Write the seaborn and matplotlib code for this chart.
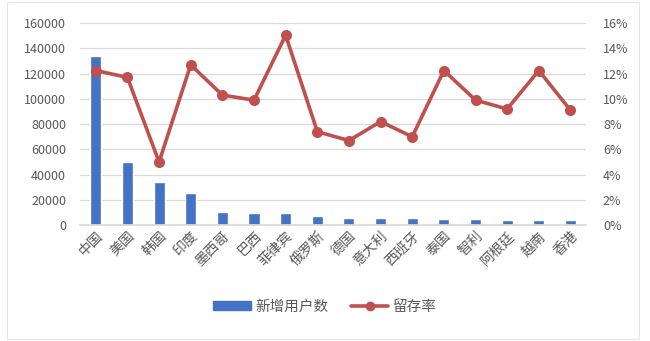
import matplotlib
matplotlib.use("Agg")
import matplotlib.pyplot as plt
import matplotlib.patches as mpatches
from matplotlib.lines import Line2D
from matplotlib.ticker import FuncFormatter, MultipleLocator
import seaborn as sns
import pandas as pd

categories = ["中国", "美国", "韩国", "印度", "墨西哥", "巴西", "菲律宾", "俄罗斯",
              "德国", "意大利", "西班牙", "泰国", "智利", "阿根廷", "越南", "香港"]
new_users = [134000, 50000, 34000, 25500, 10000, 9800, 9800, 6800,
             5500, 5500, 5400, 4500, 4500, 3800, 3800, 3800]
retention = [12.25, 11.7, 5.0, 12.7, 10.3, 9.9, 15.05, 7.4,
             6.7, 8.2, 7.0, 12.25, 9.9, 9.2, 12.25, 9.1]

bar_label = "新增用户数"
line_label = "留存率"

sns.set_theme(style="white")
plt.rcParams["font.family"] = ["Noto Sans CJK SC", "DejaVu Sans"]

df = pd.DataFrame({"cat": categories, "users": new_users, "rate": retention})

BLUE = "#4472C4"
RED = "#C0504D"
GRID = "#D9D9D9"
TXT = "#595959"

fig = plt.figure(figsize=(6.5, 3.41), dpi=100)
ax = fig.add_axes([0.123, 0.34, 0.779, 0.592])

sns.barplot(data=df, x="cat", y="users", color=BLUE, width=0.35, saturation=1,
            ax=ax, zorder=2)
ax.set_ylim(0, 160000)
ax.yaxis.set_major_locator(MultipleLocator(20000))
ax.set_xlim(-0.5, len(categories) - 0.5)
ax.grid(axis="y", color=GRID, linewidth=0.9, zorder=0)
ax.set_axisbelow(True)
ax.set_xlabel("")
ax.set_ylabel("")
for s in ax.spines.values():
    s.set_visible(False)
ax.spines["bottom"].set_visible(True)
ax.spines["bottom"].set_color(GRID)
ax.tick_params(axis="y", colors=TXT, labelsize=9, length=0, pad=10)
ax.tick_params(axis="x", colors=TXT, labelsize=10, length=0, pad=3)
plt.setp(ax.get_xticklabels(), rotation=45, ha="right", rotation_mode="anchor")

ax2 = ax.twinx()
sns.pointplot(data=df, x="cat", y="rate", color=RED, markers="o",
              linewidth=2.6, markersize=6, ax=ax2, zorder=3)
ax2.set_ylim(0, 16)
ax2.yaxis.set_major_locator(MultipleLocator(2))
ax2.yaxis.set_major_formatter(FuncFormatter(lambda v, p: f"{v:.0f}%"))
ax2.set_xlim(-0.5, len(categories) - 0.5)
ax2.set_ylabel("")
ax2.set_xlabel("")
for s in ax2.spines.values():
    s.set_visible(False)
ax2.tick_params(axis="y", colors=TXT, labelsize=9, length=0, pad=12)
ax2.grid(False)

handles = [mpatches.Patch(color=BLUE, label=bar_label),
           Line2D([0], [0], color=RED, linewidth=2.6, marker="o", markersize=6,
                  label=line_label)]
fig.legend(handles=handles, loc="center", bbox_to_anchor=(0.5, 0.1), ncol=2,
           frameon=False, fontsize=10.5, labelcolor=TXT, handlelength=2.6,
           handleheight=0.55, columnspacing=1.5, handletextpad=0.3)

fig.patches.append(mpatches.Rectangle((0.011, 0.006), 0.972, 0.988,
                                      transform=fig.transFigure, fill=False,
                                      edgecolor="#E6E6E6", linewidth=0.8))

fig.savefig("out.png", dpi=100)
